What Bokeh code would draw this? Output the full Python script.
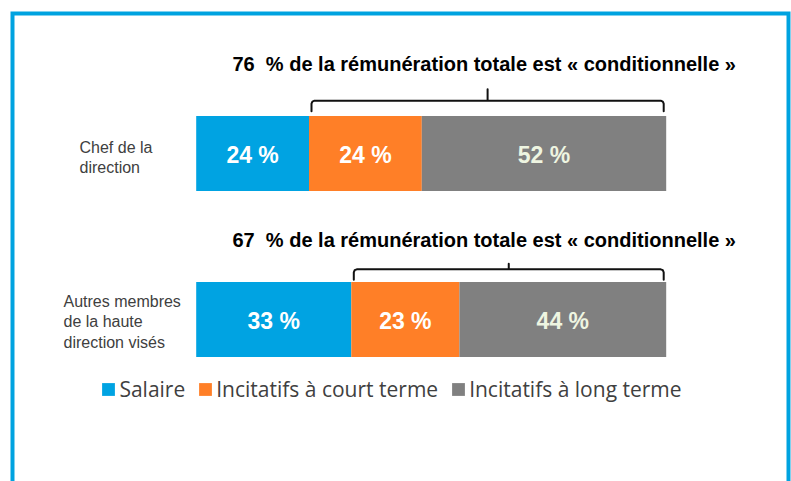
from bokeh.plotting import figure
from bokeh.models import ColumnDataSource, Range1d, Legend, LegendItem
from bokeh.core.properties import value
from bokeh.embed import file_html
from bokeh.resources import INLINE

# ---------------- data ----------------
categories = ["Chef de la\ndirection", "Autres membres\nde la haute\ndirection visés"]
series = ["Salaire", "Incitatifs à court terme", "Incitatifs à long terme"]
salaire = [24, 33]
court_terme = [24, 23]
long_terme = [52, 44]
colors = ["#00A3E2", "#FF7F27", "#808080"]
label_colors = ["#FFFFFF", "#FFFFFF", "#EEF5E1"]

# ---------------- layout helpers (page pixels -> data) ----------------
W, H = 791, 481
OX, OY = 0, 0                   # page position of the figure
X0, SCALE = 195.7, 4.7          # page x of 0 %, pixels per %
YC1, YC0 = 153.0, 319.0         # page y of the two bar centres
PPU = YC0 - YC1                 # pixels per row unit
rows = [1, 0]
BAR_PX = 75.0


def fx(px):
    return (px - X0) / SCALE


def fy(py):
    return (YC0 - py) / PPU


def page_y(row):
    return YC0 - row * PPU


p = figure(width=W, height=H, output_backend="svg", toolbar_location=None,
           x_range=Range1d(fx(OX), fx(OX + W)), y_range=Range1d(fy(OY + H), fy(OY)),
           min_border=0, background_fill_color="white", border_fill_color="white")
p.axis.visible = False
p.grid.visible = False
p.outline_line_color = None

# frame border (blue)
p.line(x=[fx(12), fx(12), fx(788), fx(788)], y=[fy(495), fy(13), fy(13), fy(495)],
       line_color="#00A3E0", line_width=4, line_join="miter")

# stacked bars
source = ColumnDataSource(dict(row=rows, Salaire=salaire, Court=court_terme, Long=long_terme))
renderers = p.hbar_stack(["Salaire", "Court", "Long"], y="row", height=BAR_PX / PPU,
                         color=colors, source=source, line_color=None)

# segment labels
lx, ly, lt, lc = [], [], [], []
for i, r in enumerate(rows):
    vals = [salaire[i], court_terme[i], long_terme[i]]
    start = 0
    for j, v in enumerate(vals):
        lx.append(start + v / 2)
        ly.append(r - 1.5 / PPU)
        lt.append(f"{v} %")
        lc.append(label_colors[j])
        start += v
p.text(x=lx, y=ly, text=lt, text_color=lc, text_align="center", text_baseline="middle",
       text_font=value("Liberation Sans"), text_font_style="bold", text_font_size="23px")

# category labels
cat_x = [fx(79), fx(63)]
cat_dy = [4, 2.5]
p.text(x=cat_x, y=[fy(page_y(r) + d) for r, d in zip(rows, cat_dy)], text=categories,
       text_align="left", text_baseline="middle", text_line_height=1.2,
       text_font=value("Liberation Sans"), text_font_size="16px", text_color="#404040")

# "conditionnelle" titles and brackets
title_base = [63, 239]
offs = [15.3, 12.7]
ticks = [11.4, 5.6]
drop = 10.5
rad = 3.0
for i, r in enumerate(rows):
    cond = court_terme[i] + long_terme[i]
    p.text(x=[fx(232)], y=[fy(title_base[i])],
           text=[f"{cond}\u00a0 % de la rémunération totale est « conditionnelle »"],
           text_align="left", text_baseline="alphabetic",
           text_font=value("Liberation Sans"), text_font_style="bold",
           text_font_size="20px", text_color="#000000")
    top = page_y(r) - BAR_PX / 2
    hy = top - offs[i]
    xs_px = X0 + salaire[i] * SCALE + 2.5
    xe_px = X0 + 100 * SCALE - 2.5
    xm = (xs_px + xe_px) / 2
    pts = [(xs_px, hy + drop), (xs_px, hy + rad), (xs_px + rad * 0.3, hy + rad * 0.3),
           (xs_px + rad, hy), (xm, hy), (xm, hy - ticks[i]), (xm, hy),
           (xe_px - rad, hy), (xe_px - rad * 0.3, hy + rad * 0.3), (xe_px, hy + rad),
           (xe_px, hy + drop)]
    p.line(x=[fx(a) for a, b in pts], y=[fy(b) for a, b in pts],
           line_color="#111111", line_width=2, line_join="round", line_cap="round")

# legend
legend = Legend(items=[LegendItem(label=s, renderers=[rr]) for s, rr in zip(series, renderers)],
                orientation="horizontal", location=(100.4 - OX, 78),
                glyph_width=16, glyph_height=16, label_standoff=3, spacing=12,
                padding=0, margin=0, border_line_color=None, background_fill_alpha=0,
                label_text_font="Open Sans", label_text_font_size="21px",
                label_text_color="#404040")
p.add_layout(legend)

open("out.html", "w").write(file_html(p, INLINE))
